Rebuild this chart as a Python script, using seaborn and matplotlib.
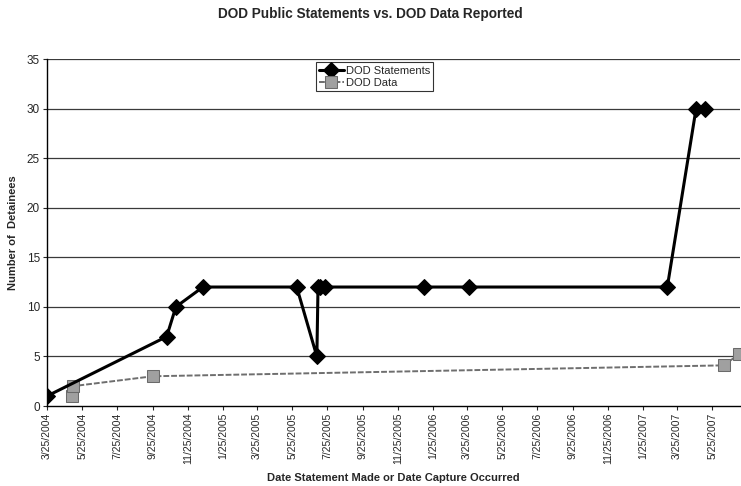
import pandas as pd
import matplotlib
matplotlib.use('Agg')
import matplotlib.pyplot as plt
import seaborn as sns

# DOD public statements (date, number of detainees)
stmt_dates = ['2004-03-25', '2004-10-19', '2004-11-04', '2004-12-21', '2005-06-02',
              '2005-07-07', '2005-07-09', '2005-07-12', '2005-07-22', '2006-01-10',
              '2006-03-28', '2007-03-08', '2007-04-27', '2007-05-13']
stmt_values = [1, 7, 10, 12, 12, 5, 12, 12, 12, 12, 12, 12, 30, 30]

# DOD data reported (date of capture, cumulative detainees)
data_dates = ['2004-05-07', '2004-05-09', '2004-09-25', '2007-06-14', '2007-07-10']
data_values = [1, 2, 3, 4.1, 5.2]

tick_labels = ['3/25/2004', '5/25/2004', '7/25/2004', '9/25/2004', '11/25/2004',
               '1/25/2005', '3/25/2005', '5/25/2005', '7/25/2005', '9/25/2005',
               '11/25/2005', '1/25/2006', '3/25/2006', '5/25/2006', '7/25/2006',
               '9/25/2006', '11/25/2006', '1/25/2007', '3/25/2007', '5/25/2007']

sns.set_style('white')
plt.rcParams['font.family'] = ['Liberation Sans', 'DejaVu Sans']

stmt_df = pd.DataFrame({'date': pd.to_datetime(stmt_dates), 'n': stmt_values})
data_df = pd.DataFrame({'date': pd.to_datetime(data_dates), 'n': data_values})

fig = plt.figure(figsize=(7.41, 4.86), dpi=100)
ax = fig.add_axes([0.0634, 0.1646, 0.935, 0.714])

# horizontal gridlines
for y in range(5, 36, 5):
    ax.axhline(y, color='#3a3a3a', linewidth=0.9, zorder=0)

sns.lineplot(data=data_df, x='date', y='n', ax=ax, color='#6e6e6e',
             linewidth=1.4, linestyle=(0, (3, 1)), marker='s', markersize=8,
             markerfacecolor='#a0a0a0', markeredgecolor='#6a6a6a',
             label='DOD Data', sort=False, zorder=2)
sns.lineplot(data=stmt_df, x='date', y='n', ax=ax, color='black',
             linewidth=2.2, marker='D', markersize=8, markeredgecolor='black',
             label='DOD Statements', sort=False, zorder=3)

ax.set_ylim(0, 35)
ax.set_yticks(range(0, 36, 5))
ax.set_xlim(pd.Timestamp('2004-03-25'), pd.Timestamp('2007-07-12'))
ax.set_xticks(pd.to_datetime(tick_labels, format='%m/%d/%Y'))
ax.set_xticklabels(tick_labels, rotation=90, fontsize=7.5)
ax.tick_params(axis='y', labelsize=8.5, length=3, direction='out', left=True, pad=2)
ax.tick_params(axis='x', length=3, direction='out', bottom=True, pad=2)

for side in ['top', 'right']:
    ax.spines[side].set_visible(False)
for side in ['left', 'bottom']:
    ax.spines[side].set_color('black')
    ax.spines[side].set_linewidth(1.0)

ax.set_xlabel('Date Statement Made or Date Capture Occurred', fontsize=8, fontweight='bold', labelpad=6)
ax.set_ylabel('Number of  Detainees', fontsize=8, fontweight='bold', labelpad=6)
fig.suptitle('DOD Public Statements vs. DOD Data Reported', fontsize=9.8, fontweight='bold', y=0.985)

handles, labels = ax.get_legend_handles_labels()
leg = ax.legend(handles[::-1], labels[::-1], loc='upper center', bbox_to_anchor=(0.473, 1.0),
                fontsize=8, frameon=True, fancybox=False, edgecolor='black',
                handlelength=2.2, handletextpad=0.2, borderpad=0.3, labelspacing=0.2,
                borderaxespad=0.3)
leg.get_frame().set_linewidth(0.8)

fig.savefig('out.png', dpi=100)
